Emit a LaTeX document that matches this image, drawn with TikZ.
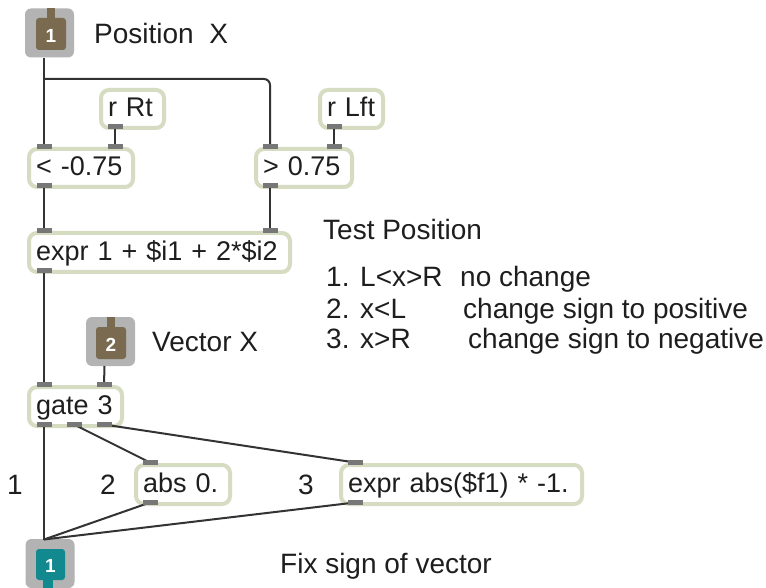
\documentclass[tikz,border=0pt]{standalone}
\usepackage{fontspec}
\setmainfont{Liberation Sans}
\usetikzlibrary{calc}

\definecolor{objedge}{HTML}{D5DCC2}
\definecolor{portgray}{HTML}{777777}
\definecolor{wirec}{HTML}{333333}
\definecolor{iogray}{HTML}{B3B3B3}
\definecolor{inbrown}{HTML}{7A6A4F}
\definecolor{outteal}{HTML}{12888F}
\definecolor{ink}{HTML}{1E1E1E}

\newcommand\objfont{\fontsize{27}{32}\selectfont}
\newcommand\notefont{\fontsize{28}{33}\selectfont}
\newcommand\numfont{\fontsize{19}{22}\selectfont\bfseries}

% port tab centred on a named coordinate
\newcommand\maxport[1]{\fill[portgray] ($(#1)+(-7.5,-2.8)$) rectangle ($(#1)+(7.5,2.8)$);}

\tikzset{
  obj/.style={draw=objedge, line width=4pt, rounded corners=8pt, fill=white,
    inner xsep=7pt, inner ysep=0pt, text height=20pt, text depth=4pt,
    anchor=north west, align=left, font=\objfont, text=ink},
  iobox/.style={fill=iogray, rounded corners=6pt, minimum size=49pt, inner sep=0pt},
  numtxt/.style={text=white, font=\numfont, inner sep=0pt},
  wire/.style={draw=wirec, line width=2pt},
  lbl/.style={font=\notefont, text=ink, inner sep=0pt, anchor=base west},
}

\begin{document}
\begin{tikzpicture}[x=1pt,y=-1pt]
\useasboundingbox[fill=white] (0,0) rectangle (766,588);

% ---- message boxes (text kept on one line) ----
\node[obj, text width=49pt, minimum height=38pt] (rrt)  at (99,88)   {\mbox{r Rt}};
\node[obj, text width=49pt, minimum height=38pt] (rlft) at (318,88)  {\mbox{r Lft}};
\node[obj, text width=90pt, minimum height=38pt] (lt)   at (27,147)  {\mbox{< -0.75}};
\node[obj, text width=82pt, minimum height=38pt] (gt)   at (254,147) {\mbox{> 0.75}};
\node[obj, text width=247pt, minimum height=39pt] (ex)  at (27,231)  {\mbox{expr 1 + \$i1 + 2*\$i2}};
\node[obj, text width=79pt, minimum height=39pt] (gate) at (27,385)  {\mbox{gate 3}};
\node[obj, text width=80pt, minimum height=39pt] (absn) at (134,463) {\mbox{abs 0.}};
\node[obj, text width=227pt, minimum height=39pt] (neg) at (339,463) {\mbox{expr abs(\$f1) * -1.}};

% ---- inlet 1 ----
\node[iobox] (in1) at (49.5,33) {};
\fill[inbrown, rounded corners=3pt] (36,18) rectangle (66,50);
\fill[inbrown] (47,8) rectangle (55,19);
\node[numtxt] (in1num) at (51,35.5) {1};

% ---- inlet 2 ----
\node[iobox] (in2) at (110.5,341.5) {};
\fill[inbrown, rounded corners=3pt] (96,327) rectangle (126,359);
\fill[inbrown] (107,317) rectangle (115,328);
\node[numtxt] (in2num) at (111,344.5) {2};

% ---- outlet 1 ----
\node[iobox] (out1) at (50,563.5) {};
\fill[outteal, rounded corners=3pt] (36,549) rectangle (65,580);
\fill[outteal] (43,578) rectangle (53,588);
\node[numtxt] (out1num) at (50.5,565.5) {1};

% ---- port positions ----
\coordinate (in1-o)  at (44,58);
\coordinate (split)  at (44,79);
\coordinate (in2-o)  at (104.5,366);
\coordinate (out1-i) at (44,539.5);
\coordinate (rrt-o)  at (115,126.5);
\coordinate (rlft-o) at (334,126.5);
\coordinate (lt-i1)  at (44,146.5);
\coordinate (lt-i2)  at (115,146.5);
\coordinate (lt-o)   at (44,185.5);
\coordinate (gt-i1)  at (270,146.5);
\coordinate (gt-i2)  at (334,146.5);
\coordinate (gt-o)   at (270,185.5);
\coordinate (ex-i1)  at (44,230.5);
\coordinate (ex-i2)  at (270,230.5);
\coordinate (ex-o)   at (44,270.5);
\coordinate (gate-i1) at (44,384.5);
\coordinate (gate-i2) at (104,384.5);
\coordinate (gate-o1) at (44,424.5);
\coordinate (gate-o2) at (74,424.5);
\coordinate (gate-o3) at (104,424.5);
\coordinate (abs-i)  at (150,462.5);
\coordinate (abs-o)  at (150,502.5);
\coordinate (neg-i)  at (355,462.5);
\coordinate (neg-o)  at (355,502.5);

% ---- patch cords ----
\draw[wire] (in1-o) -- (lt-i1);
\draw[wire, rounded corners=6pt] (split) -- (split -| gt-i1) -- (gt-i1);
\draw[wire] (rrt-o) -- (lt-i2);
\draw[wire] (rlft-o) -- (gt-i2);
\draw[wire] (lt-o) -- (ex-i1);
\draw[wire] (gt-o) -- (ex-i2);
\draw[wire] (ex-o) -- (gate-i1);
\draw[wire] (in2-o) -- (gate-i2);
\draw[wire] (gate-o1) -- (out1-i);
\draw[wire] (gate-o2) -- (abs-i);
\draw[wire] (gate-o3) -- (neg-i);
\draw[wire] (abs-o) -- (out1-i);
\draw[wire] (neg-o) -- (out1-i);

% ---- port tabs ----
\foreach \p in {rrt-o,rlft-o,lt-i1,lt-i2,lt-o,gt-i1,gt-i2,gt-o,ex-i1,ex-i2,ex-o,
  gate-i1,gate-i2,gate-o1,gate-o2,gate-o3,abs-i,abs-o,neg-i,neg-o}{\maxport{\p}}

% ---- comments ----
\node[lbl] (tpos) at (94,43.5) {Position\ \ X};
\node[lbl] (tvec) at (152,351) {Vector X};
\node[lbl] (ttest) at (323,240) {Test Position};
\node[lbl] (r1a) at (326,287) {1.};
\node[lbl] (r1b) at (360,287) {L<x>R};
\node[lbl] (r1c) at (460,287) {no change};
\node[lbl] (r2a) at (326,318) {2.};
\node[lbl] (r2b) at (360,318) {x<L};
\node[lbl] (r2c) at (463,318) {change sign to positive};
\node[lbl] (r3a) at (326,348) {3.};
\node[lbl] (r3b) at (360,348) {x>R};
\node[lbl] (r3c) at (468,348) {change sign to negative};
\node[lbl] (tfix) at (280,573) {Fix sign of vector};
\node[lbl, anchor=base] (n1) at (15,494) {1};
\node[lbl, anchor=base] (n2) at (108,494) {2};
\node[lbl, anchor=base] (n3) at (306,494) {3};
\end{tikzpicture}
\end{document}
